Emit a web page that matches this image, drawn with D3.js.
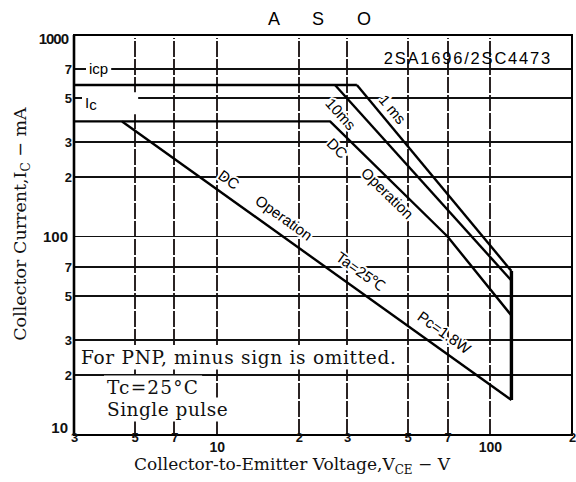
<!DOCTYPE html>
<html>
<head>
<meta charset="utf-8">
<script src="https://cdn.jsdelivr.net/npm/d3@7"></script>
<style>
body { margin: 0; background: #fff; }
</style>
</head>
<body>
<div id="chart"></div>
<script>
// ASO curves, points as [V_CE (V), I_C (mA)]
const icpLimit = [[3, 580], [32.6, 580]]
const pulse1ms = [[32.6, 580], [120, 67]]
const pulse10ms = [[27.1, 580], [120, 60]]
const dcTc = [[3, 380], [26, 380], [70, 100], [120, 40]]
const dcTa = [[4.5, 380], [120, 15]]
const vceoLimit = [[120, 67], [120, 15]]

const xTicks = [3, 5, 7, 10, 20, 30, 50, 70, 100, 200]
const xTickLabels = ["3", "5", "7", "10", "2", "3", "5", "7", "100", "2"]
const yTicks = [10, 20, 30, 50, 70, 100, 200, 300, 500, 700, 1000]
const yTickLabels = ["10", "2", "3", "5", "7", "100", "2", "3", "5", "7", "1000"]

// labels along the curves: segment, position (V) and normal offset (px)
const lineLabels = [
    { text: "1 ms", line: pulse1ms, seg: 0, at: 40.8, off: -12 },
    { text: "10ms", line: pulse10ms, seg: 0, at: 31.3, off: 15 },
    { text: "DC", line: dcTc, seg: 1, at: 30, off: 14 },
    { text: "Operation", line: dcTc, seg: 1, at: 45, off: 11 },
    { text: "DC", line: dcTa, seg: 0, at: 10.3, off: -15 },
    { text: "Operation", line: dcTa, seg: 0, at: 16.3, off: -16 },
    { text: "Ta=25℃", line: dcTa, seg: 0, at: 31, off: -17 },
    { text: "Pc=1.8W", line: dcTa, seg: 0, at: 63, off: -16 },
]
const noteLines = ["For PNP, minus sign is omitted.", "Tc=25°C", "Single pulse"]

const sans = "'Liberation Sans', Arial, sans-serif"
const serif = "'DejaVu Serif', serif"

const svg = d3.select("#chart").append("svg")
    .attr("width", 576)
    .attr("height", 482)

const x = d3.scaleLog().domain([3, 200]).range([74, 572])
const y = d3.scaleLog().domain([10, 1000]).range([435, 38])

// white boxes behind text put on the grid
function backdrop(sel, pad = 2, padRight = 0) {
    sel.each(function () {
        const b = this.getBBox()
        d3.select(this.parentNode).insert("rect", () => this)
            .attr("x", b.x - pad).attr("y", b.y - pad / 2)
            .attr("width", b.width + pad * 2 + padRight)
            .attr("height", b.height + pad)
            .attr("fill", "#fff")
    })
}

// grid
const grid = svg.append("g").attr("shape-rendering", "crispEdges")
grid.selectAll("line.vg")
    .data(xTicks.slice(1, -1))
    .enter().append("line")
    .attr("class", "vg")
    .attr("x1", d => Math.round(x(d))).attr("x2", d => Math.round(x(d)))
    .attr("y1", y(10)).attr("y2", y(1000))
    .attr("stroke", "#2b2424").attr("stroke-width", 1.8)
    .attr("stroke-dasharray", "16 2")
grid.selectAll("line.hg")
    .data(yTicks.slice(1, -1))
    .enter().append("line")
    .attr("class", "hg")
    .attr("x1", x(3)).attr("x2", x(200))
    .attr("y1", d => y(d)).attr("y2", d => y(d))
    .attr("stroke", "#111").attr("stroke-width", 1.8)

// limit lines
const lineGen = d3.line().x(d => x(d[0])).y(d => y(d[1]))
const curves = svg.append("g").attr("fill", "none").attr("stroke", "#000")
    .attr("stroke-linejoin", "round")
curves.selectAll("path")
    .data([icpLimit, pulse1ms, pulse10ms, dcTc, dcTa])
    .join("path")
    .attr("d", lineGen)
    .attr("stroke-width", 2.4)
curves.append("path").attr("d", lineGen(vceoLimit)).attr("stroke-width", 3.4)

// curve labels
const labels = svg.append("g")
    .style("font-family", sans)
    .style("font-size", "15px")
lineLabels.forEach(l => {
    const p0 = l.line[l.seg], p1 = l.line[l.seg + 1]
    const x0 = x(p0[0]), y0 = y(p0[1]), x1 = x(p1[0]), y1 = y(p1[1])
    const a = Math.atan2(y1 - y0, x1 - x0)
    const px = x(l.at)
    const py = y0 + (px - x0) / (x1 - x0) * (y1 - y0)
    const cx = px - l.off * Math.sin(a), cy = py + l.off * Math.cos(a)
    labels.append("text")
        .attr("transform", `translate(${cx},${cy}) rotate(${a * 180 / Math.PI})`)
        .attr("text-anchor", "middle")
        .attr("dominant-baseline", "central")
        .attr("stroke", "#fff").attr("stroke-width", 4)
        .attr("paint-order", "stroke")
        .text(l.text)
})

// icp / Ic labels
const limLabels = svg.append("g").style("font-family", sans).style("font-size", "15px")
limLabels.append("text").attr("x", x(3) + 15).attr("y", y(700) + 5).text("icp")
    .call(backdrop, 3)
const ic = limLabels.append("text").attr("x", x(3) + 11).attr("y", y(500) + 10)
ic.append("tspan").text("I")
ic.append("tspan").attr("dy", 2).text("c")
ic.call(backdrop, 3, 38)

// frame
svg.append("rect")
    .attr("x", x(3)).attr("y", y(1000) - 3)
    .attr("width", x(200) - x(3)).attr("height", y(10) - y(1000) + 3)
    .attr("fill", "none").attr("stroke", "#000").attr("stroke-width", 2)
svg.append("line")
    .attr("x1", x(3)).attr("x2", x(3)).attr("y1", y(1000) - 3).attr("y2", y(10))
    .attr("stroke", "#000").attr("stroke-width", 2.6)

// axes
const xAxis = svg.append("g")
    .attr("transform", `translate(0,${y(10)})`)
    .call(d3.axisBottom(x).tickValues(xTicks).tickFormat((d, i) => xTickLabels[i]).tickSize(0))
xAxis.select(".domain").remove()
xAxis.selectAll("text")
    .attr("dy", null)
    .attr("y", (d, i) => xTickLabels[i].length > 1 ? 17 : 7)
    .style("font-family", sans)
    .style("font-weight", "bold")
    .style("font-size", (d, i) => xTickLabels[i].length > 1 ? "14px" : "13px")
    .attr("fill", "#111")

const yAxis = svg.append("g")
    .attr("transform", `translate(${x(3)},0)`)
    .call(d3.axisLeft(y).tickValues(yTicks).tickFormat((d, i) => yTickLabels[i]).tickSize(0))
yAxis.select(".domain").remove()
yAxis.selectAll("text")
    .attr("x", (d, i) => yTickLabels[i].length > 1 ? -6 : -2)
    .attr("dy", (d, i) => i === 0 ? "-0.2em" : "0.35em")
    .style("font-family", sans)
    .style("font-weight", "bold")
    .style("font-size", (d, i) => yTickLabels[i].length > 1 ? "15px" : "13px")
    .style("letter-spacing", (d, i) => yTickLabels[i].length > 3 ? "-1px" : null)
    .attr("fill", "#111")

// notes inside the plot
const notes = svg.append("g").style("font-family", serif).style("font-size", "18.5px").attr("fill", "#111")
notes.selectAll("text")
    .data(noteLines)
    .join("text")
    .attr("x", (d, i) => i === 0 ? x(3) + 7 : x(3) + 33)
    .attr("y", (d, i) => [364, 394, 416][i])
    .style("letter-spacing", (d, i) => ["0.7px", "1.2px", "0.5px"][i])
    .text(d => d)
    .call(backdrop, 3)

// titles
svg.append("text")
    .attr("x", 268).attr("y", 25)
    .style("font-family", sans).style("font-size", "18px")
    .style("letter-spacing", "14px")
    .text("A S O")

svg.append("text")
    .attr("x", x(200) - 20).attr("y", 64)
    .attr("text-anchor", "end")
    .style("font-family", sans).style("font-size", "16.5px")
    .style("letter-spacing", "1.8px")
    .text("2SA1696/2SC4473")

const xt = svg.append("text")
    .attr("x", 292).attr("y", 470)
    .attr("text-anchor", "middle")
    .style("font-family", serif).style("font-size", "17px")
    .attr("fill", "#111")
xt.append("tspan").text("Collector-to-Emitter Voltage,V")
xt.append("tspan").attr("dy", 4).style("font-size", "12px").text("CE")
xt.append("tspan").attr("dy", -4).text(" − V")

const yt = svg.append("text")
    .attr("transform", "translate(26,224) rotate(-90)")
    .attr("text-anchor", "middle")
    .style("font-family", serif).style("font-size", "17.5px")
    .attr("fill", "#111")
yt.append("tspan").text("Collector Current,I")
yt.append("tspan").attr("dy", 4).style("font-size", "12px").text("C")
yt.append("tspan").attr("dy", -4).text(" − mA")
</script>
</body>
</html>
